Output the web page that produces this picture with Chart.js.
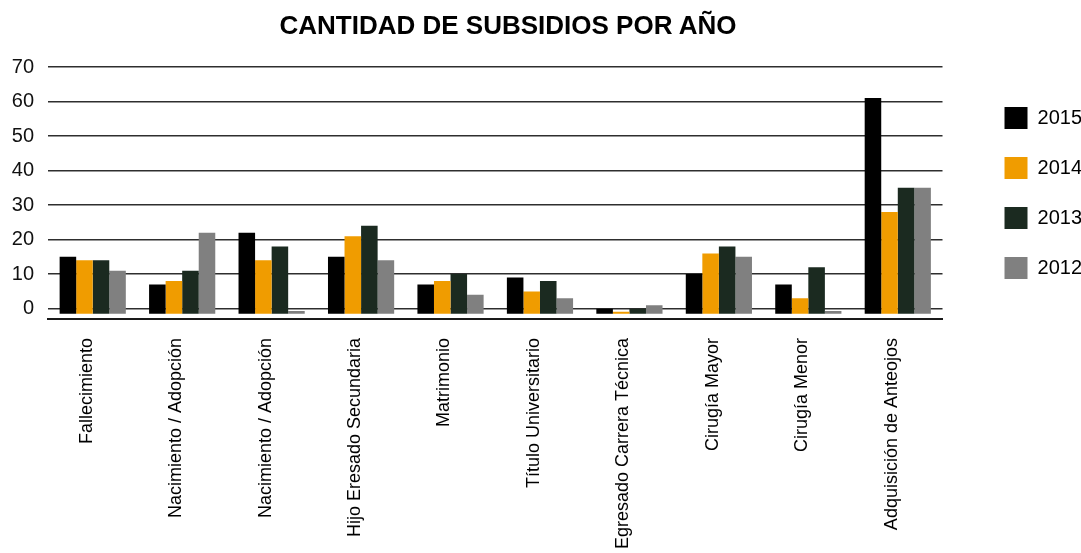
<!DOCTYPE html>
<html lang="es">
<head>
  <meta charset="UTF-8" />
  <title>Cantidad de subsidios por año</title>
  <script src="https://cdn.jsdelivr.net/npm/chart.js"></script>
  <style>
    * { margin: 0; padding: 0; box-sizing: border-box; }
    body { background: #fff; font-family: 'Liberation Sans', Arial, sans-serif; }
    .wrap { position: relative; width: 1081px; height: 553px; }
    .title {
      position: absolute;
      top: 10px;
      left: 0;
      width: 1016px;
      text-align: center;
      font-size: 26px;
      line-height: 30px;
      font-weight: bold;
      color: #000;
    }
    canvas { display: block; }
  </style>
</head>
<body>
  <div class="wrap">
    <canvas id="chart" width="1081" height="553"></canvas>
    <div class="title">CANTIDAD DE SUBSIDIOS POR AÑO</div>
  </div>

  <script>
    const categories = [
      'Fallecimiento',
      'Nacimiento / Adopción',
      'Nacimiento / Adopción',
      'Hijo Eresado Secundaria',
      'Matrimonio',
      'Título Universitario',
      'Egresado Carrera Técnica',
      'Cirugía Mayor',
      'Cirugía Menor',
      'Adquisición de Anteojos'
    ];
    const years = ['2015', '2014', '2013', '2012'];
    const values2015 = [15, 7, 22, 15, 7, 9, 0, 10, 7, 61];
    const values2014 = [14, 8, 14, 21, 8, 5, -0.9, 16, 3, 28];
    const values2013 = [14, 11, 18, 24, 10, 8, 0, 18, 12, 35];
    const values2012 = [11, 22, -0.7, 14, 4, 3, 1, 15, -0.7, 35];
    const yTicks = [0, 10, 20, 30, 40, 50, 60, 70];

    const colors = ['#000000', '#f09c00', '#1b2a20', '#808080'];
    const series = [values2015, values2014, values2013, values2012];
    const font = "'Liberation Sans', Arial, sans-serif";

    const datasets = series.map((data, i) => ({
      label: years[i],
      data,
      backgroundColor: colors[i],
      borderWidth: 0,
      base: -1.5,
      categoryPercentage: 0.74,
      barPercentage: 1.0
    }));

    new Chart(document.getElementById('chart'), {
      type: 'bar',
      data: { labels: categories, datasets },
      options: {
        responsive: false,
        animation: false,
        layout: { padding: { top: 67, right: -11, bottom: 0, left: 0 } },
        plugins: {
          title: { display: false },
          tooltip: { enabled: false },
          legend: {
            position: 'right',
            fullSize: false,
            labels: {
              boxWidth: 23,
              boxHeight: 22,
              padding: 28,
              color: '#000',
              font: { family: font, size: 20 }
            }
          }
        },
        scales: {
          x: {
            grid: { display: false },
            border: { display: true, color: '#1a1a1a', width: 2 },
            ticks: {
              color: '#000',
              font: { family: font, size: 18 },
              minRotation: 90,
              maxRotation: 90,
              autoSkip: false,
              padding: 11,
              labelOffset: -6
            },
            afterFit: s => { s.height = 234; }
          },
          y: {
            min: -3,
            max: 70,
            afterBuildTicks: s => { s.ticks = yTicks.map(v => ({ value: v })); },
            grid: { color: '#2e2e2e', lineWidth: 1.6, drawTicks: false },
            border: { display: false },
            ticks: {
              color: '#111',
              font: { family: font, size: 20 },
              padding: 14
            },
            afterFit: s => { s.width = 48; }
          },
          gap: {
            type: 'linear',
            position: 'right',
            grid: { display: false },
            border: { display: false },
            ticks: { display: false },
            afterFit: s => { s.width = 34; }
          }
        }
      }
    });
  </script>
</body>
</html>
